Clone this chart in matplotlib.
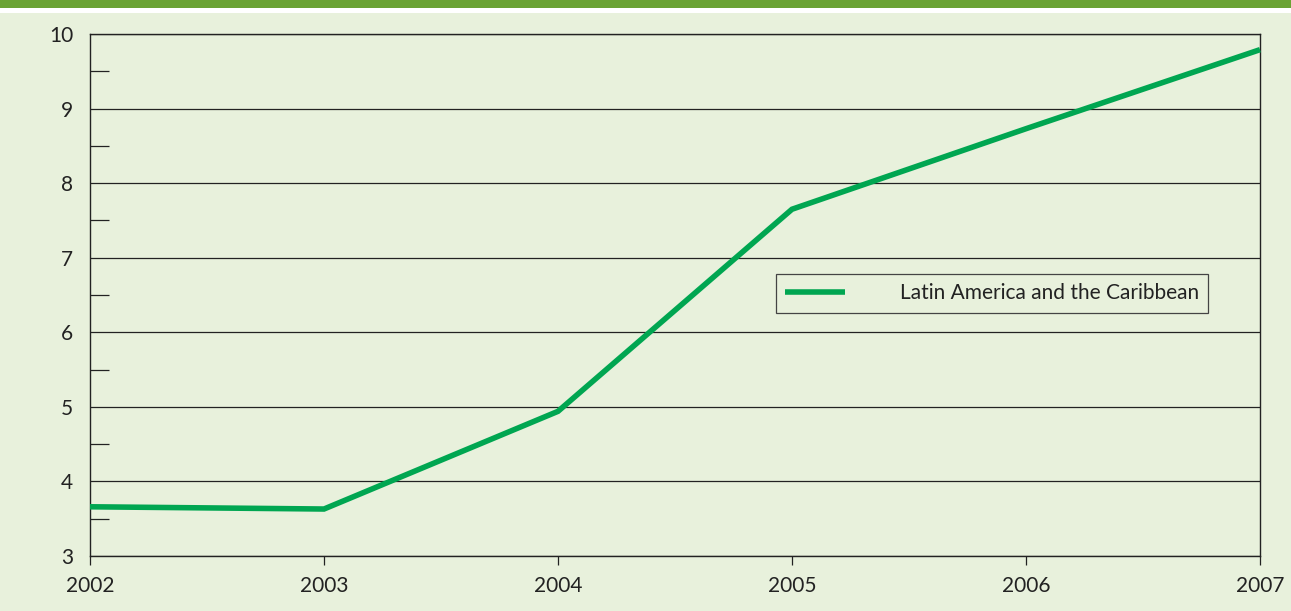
import matplotlib.pyplot as plt
import matplotlib.patches as patches
import numpy as np

years = [2002, 2003, 2004, 2005, 2006, 2007]
values = [3.66, 3.63, 4.94, 7.65, 8.73, 9.79]
series_name = "Latin America and the Caribbean"

bg = "#e8f1dc"
line_color = "#00a651"

plt.rcParams['font.family'] = ['Lato', 'DejaVu Sans']

fig = plt.figure(figsize=(12.91, 6.11), dpi=100)
fig.patch.set_facecolor(bg)
# green band + white strip at the top
fig.add_artist(patches.Rectangle((0, 1 - 8/611), 1, 8/611, transform=fig.transFigure,
                                 facecolor="#6aa334", edgecolor="none"))
fig.add_artist(patches.Rectangle((0, 1 - 13/611), 1, 5/611, transform=fig.transFigure,
                                 facecolor="white", edgecolor="none"))

ax = fig.add_axes([90/1291, 55/611, 1170/1291, 522/611])
ax.set_facecolor(bg)
ax.plot(years, values, color=line_color, lw=4.0, label=series_name,
        solid_capstyle='butt', solid_joinstyle='miter', clip_on=False, zorder=3)

ax.set_xlim(2002, 2007)
ax.set_ylim(3, 10)
ax.set_xticks(years)
ax.set_yticks(range(3, 11))
ax.set_yticks(np.arange(3.5, 10, 1), minor=True)
ax.grid(axis='y', which='major', color='#222222', lw=0.9)
for s in ax.spines.values():
    s.set_color('#222222')
    s.set_linewidth(1.0)

ax.tick_params(axis='y', which='major', length=0, pad=12, labelsize=15, labelcolor='#222222')
ax.tick_params(axis='y', which='minor', direction='in', length=14, width=0.9, color='#222222')
ax.tick_params(axis='x', which='major', direction='out', length=6.5, width=0.9, color='#222222',
               pad=8, labelsize=15, labelcolor='#222222')

leg = ax.legend(loc='upper left', bbox_to_anchor=(0.586, 0.540), fontsize=15,
                handlelength=2.9, handletextpad=2.6, borderpad=0.45, borderaxespad=0,
                fancybox=False, framealpha=1, facecolor=bg, edgecolor='#444444')
leg.get_frame().set_linewidth(0.9)
for t in leg.get_texts():
    t.set_color('#222222')

fig.savefig("out.png", dpi=100, facecolor=bg)
